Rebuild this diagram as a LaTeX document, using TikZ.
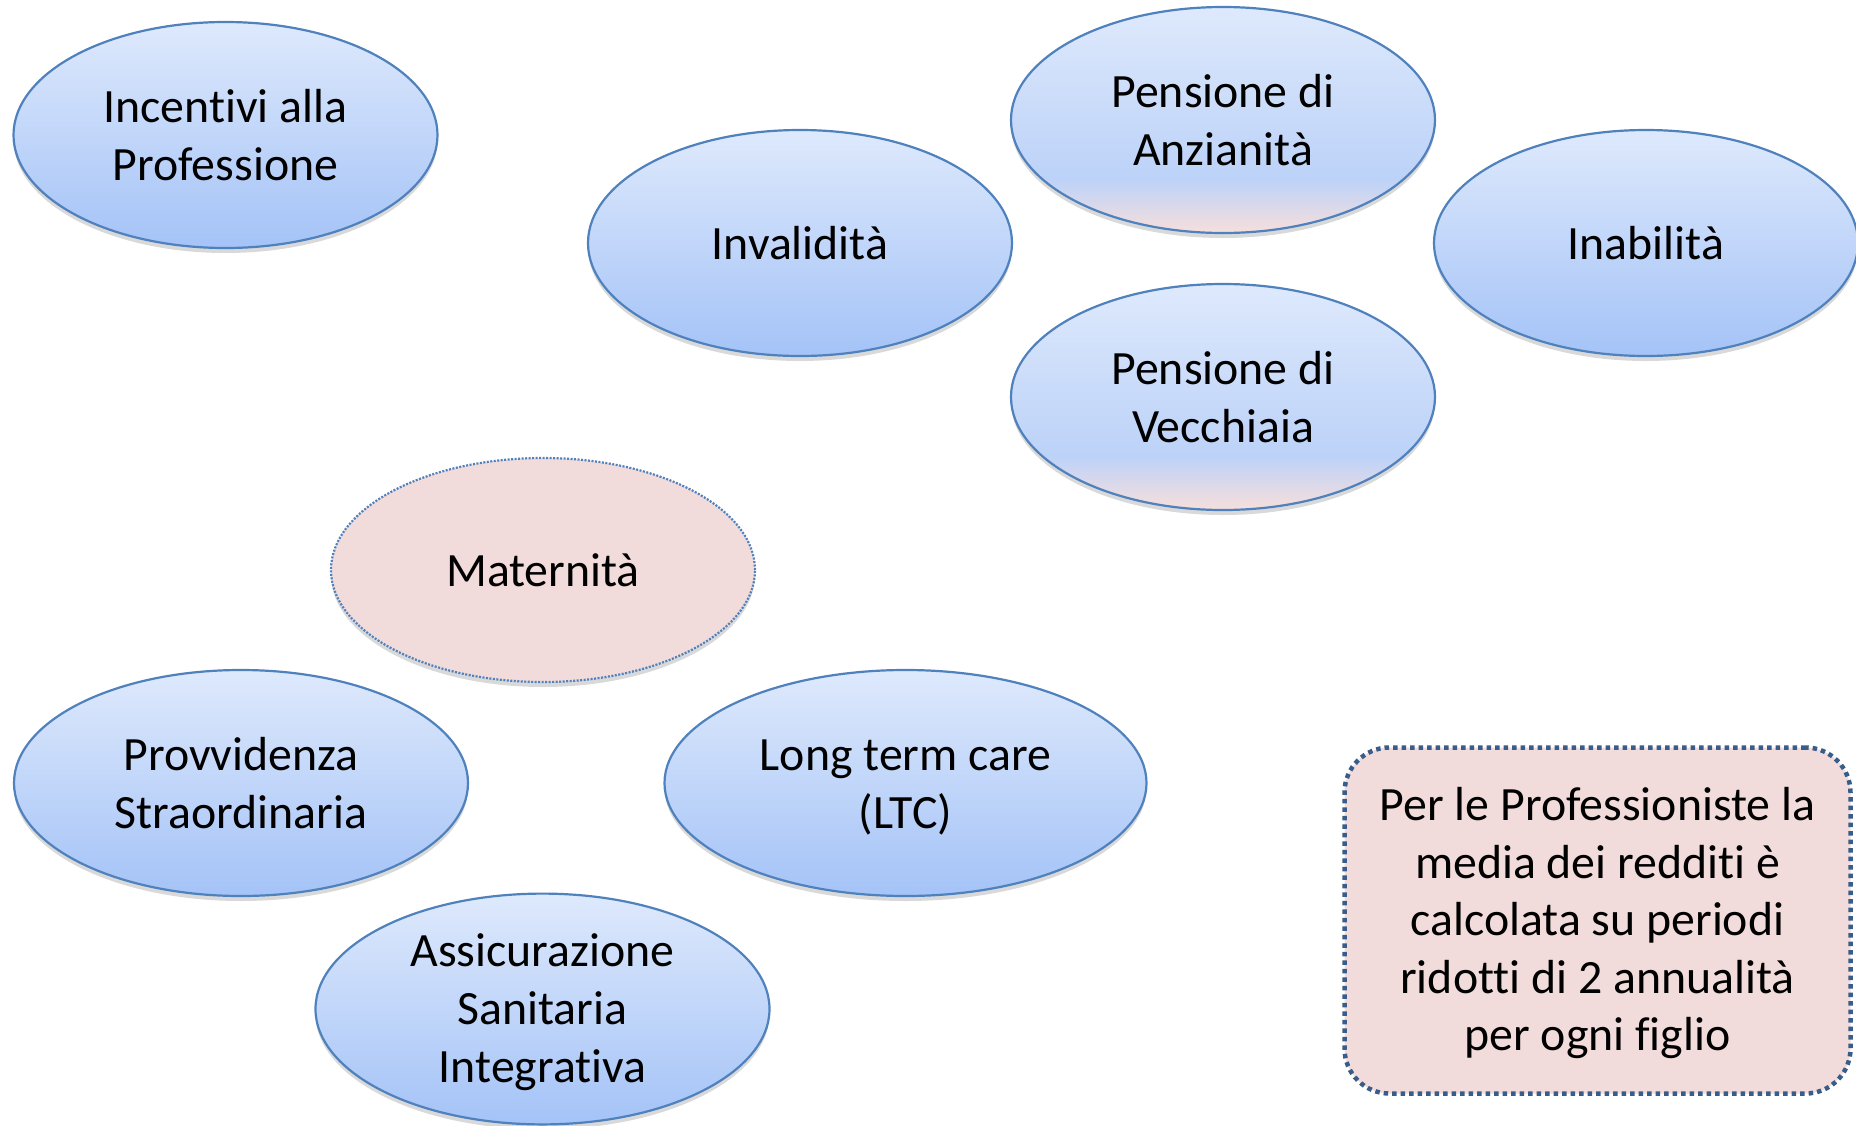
\documentclass[tikz,border=0pt]{standalone}
\usepackage{fontspec}
\setmainfont[RawFeature=-liga]{Carlito}
\usetikzlibrary{shapes.geometric,shadows}
\definecolor{edgeblue}{RGB}{79,129,189}
\definecolor{boxedge}{RGB}{56,93,138}
\definecolor{topblue}{RGB}{222,233,252}
\definecolor{botblue}{RGB}{164,195,247}
\definecolor{midblue}{RGB}{188,210,248}
\definecolor{pinkfill}{RGB}{242,220,219}
\definecolor{pinkbot}{RGB}{242,222,222}
\pgfdeclareverticalshading{pensionshade}{100bp}{color(0bp)=(pinkbot); color(26bp)=(pinkbot); color(37bp)=(midblue); color(75bp)=(topblue); color(100bp)=(topblue)}
\newcommand{\ls}{\rule[-7pt]{0pt}{46pt}}
\tikzset{
  shad/.style={drop shadow={shadow xshift=0pt, shadow yshift=-5pt, opacity=0.25, fill=black!60}},
  bubble/.style={ellipse, draw=edgeblue, line width=2.2pt, inner sep=0pt,
    minimum width=424pt, minimum height=226pt, top color=topblue, bottom color=botblue,
    shad, align=center, font=\fontsize{47.8}{58}\selectfont},
  widebubble/.style={bubble, minimum width=454pt},
  pension/.style={bubble, shading=pensionshade},
  mat/.style={ellipse, draw=edgeblue, line width=2.2pt, dash pattern=on 2pt off 1.5pt,
    inner sep=0pt, minimum width=424pt, minimum height=224pt, fill=pinkfill, shad,
    align=center, font=\fontsize{47.8}{58}\selectfont},
  notebox/.style={rectangle, rounded corners=45pt, draw=boxedge, line width=4.5pt,
    dash pattern=on 4.5pt off 4pt, fill=pinkfill, inner sep=0pt,
    minimum width=506pt, minimum height=346pt, align=center,
    font=\fontsize{47.8}{57.5}\selectfont}
}
\begin{document}
\begin{tikzpicture}[x=1pt,y=-1pt]
\useasboundingbox (0,0) rectangle (1856,1125);
\node[bubble] (inc) at (225.5,135) {\ls Incentivi alla\\\ls Professione};
\node[bubble] (inv) at (800,243) {\ls Invalidità};
\node[pension] (anz) at (1223,120) {\ls Pensione di\\\ls Anzianità};
\node[bubble] (inab) at (1646,243) {\ls Inabilità};
\node[pension] (vec) at (1223,397) {\ls Pensione di\\\ls Vecchiaia};
\node[mat] (mat) at (543,570) {\ls Maternità};
\node[widebubble] (prov) at (241,783) {\ls Provvidenza\\\ls Straordinaria};
\node[bubble, minimum width=482pt] (ltc) at (905.5,783) {\ls Long term care\\\ls (LTC)};
\node[widebubble] (ass) at (542.5,1009) {\ls Assicurazione\\\ls Sanitaria\\\ls Integrativa};
\node[notebox] (note) at (1597.5,920.5) {\ls Per le Professioniste la\\\ls media dei redditi è\\\ls calcolata su periodi\\\ls ridotti di 2 annualità\\\ls per ogni figlio};
\end{tikzpicture}
\end{document}
